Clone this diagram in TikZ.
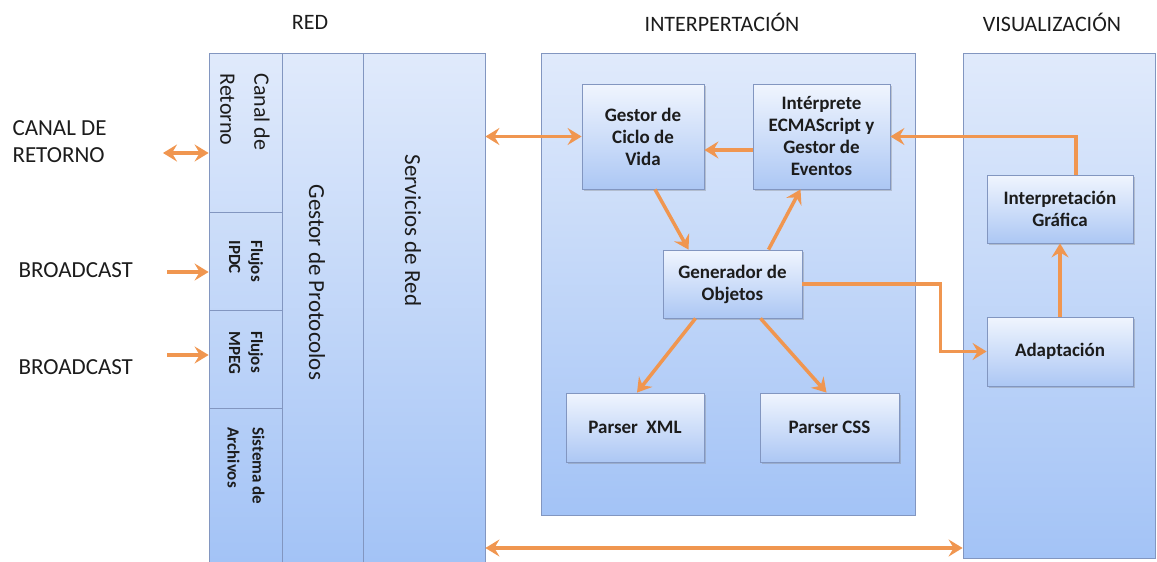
\documentclass[tikz,border=0pt]{standalone}
\usepackage{fontspec}
\setmainfont{Carlito}
\usepackage{tikz}
\usetikzlibrary{arrows.meta,shadows,positioning}

\definecolor{naranja}{RGB}{240,150,80}
\definecolor{fondoArriba}{RGB}{224,234,251}
\definecolor{fondoAbajo}{RGB}{163,195,246}
\definecolor{cajaArriba}{RGB}{240,245,254}
\definecolor{cajaAbajo}{RGB}{172,199,244}
\definecolor{borde}{RGB}{130,150,192}
\definecolor{texto}{RGB}{28,28,28}

\tikzset{
  celda/.style={draw=borde, line width=0.8pt, inner sep=0pt},
  bloque/.style={draw=borde, line width=0.8pt, inner sep=0pt,
    top color=fondoArriba, bottom color=fondoAbajo},
  caja/.style={draw=borde, line width=0.8pt, inner sep=2pt,
    top color=cajaArriba, bottom color=cajaAbajo,
    drop shadow={shadow xshift=1.5pt, shadow yshift=-2pt, opacity=0.35},
    align=center, text=texto, font=\fontsize{19}{22}\selectfont\bfseries},
  titulo/.style={text=texto, font=\fontsize{22}{26}\selectfont},
  etiqueta/.style={text=texto, font=\fontsize{23}{27}\selectfont, align=left},
  girado/.style={rotate=-90, anchor=west, align=left, text=texto},
  flecha/.style={draw=naranja, line width=3.5pt,
    -{Stealth[length=14pt, width=17pt, inset=5pt]}},
  flechaDoble/.style={draw=naranja, line width=3.5pt,
    {Stealth[length=14pt, width=17pt, inset=5pt]}-{Stealth[length=14pt, width=17pt, inset=5pt]}}
}

\begin{document}
\begin{tikzpicture}[x=1pt, y=-1pt]
    \useasboundingbox (0,0) rectangle (1157,562);

    % titulos
    \node[titulo] (tRed) at (310,22) {RED};
    \node[titulo] (tInterp) at (722,22) {INTERPERTACIÓN};
    \node[titulo] (tVisual) at (1052,22) {VISUALIZACIÓN};

    % pila de red
    \shade[top color=fondoArriba, bottom color=fondoAbajo] (209,53) rectangle (485,562);
    \node[celda, minimum width=73pt, minimum height=159pt] (canal) at (245.5,132.5) {};
    \node[celda, minimum width=73pt, minimum height=98pt] (ipdc) at (245.5,261) {};
    \node[celda, minimum width=73pt, minimum height=98pt] (mpeg) at (245.5,359) {};
    \node[celda, minimum width=73pt, minimum height=154pt] (archivos) at (245.5,485) {};
    \node[celda, minimum width=81pt, minimum height=509pt] (protocolos) at (322.5,307.5) {};
    \node[celda, minimum width=122pt, minimum height=509pt] (servicios) at (424,307.5) {};

    \node[girado, font=\fontsize{22}{34}\selectfont] at (245,70) {Canal de\\Retorno};
    \node[girado, font=\fontsize{17}{22}\selectfont\bfseries] at (246,237) {Flujos\\IPDC};
    \node[girado, font=\fontsize{17}{22}\selectfont\bfseries] at (246,328) {Flujos\\MPEG};
    \node[girado, font=\fontsize{17}{25}\selectfont\bfseries] at (246,424) {Sistema de\\Archivos};
    \node[girado, font=\fontsize{23}{26}\selectfont] at (317,181) {Gestor de Protocolos};
    \node[girado, font=\fontsize{23}{26}\selectfont] at (413,151) {Servicios de Red};

    % bloques grandes
    \node[bloque, minimum width=374pt, minimum height=462pt] (interpretacion) at (728,284) {};
    \node[bloque, minimum width=192pt, minimum height=505pt] (visual) at (1059,305.5) {};

    % cajas
    \node[caja, minimum width=122pt, minimum height=105pt] (ciclo) at (643,136.5) {Gestor de\\Ciclo de\\Vida};
    \node[caja, minimum width=137pt, minimum height=105pt] (interp) at (821.5,136.5) {Intérprete\\ECMAScript y\\Gestor de\\Eventos};
    \node[caja, minimum width=139pt, minimum height=68pt] (gener) at (732.5,284) {Generador de\\Objetos};
    \node[caja, minimum width=138pt, minimum height=69pt] (xml) at (635,427.5) {Parser\ \ XML};
    \node[caja, minimum width=139pt, minimum height=69pt] (css) at (829.5,427.5) {Parser CSS};
    \node[caja, minimum width=146pt, minimum height=68pt] (grafica) at (1060,209) {Interpretación\\Gráfica};
    \node[caja, minimum width=146pt, minimum height=69pt] (adapt) at (1060,351.5) {Adaptación};

    % entradas
    \node[etiqueta, anchor=west] (lblRetorno) at (9,142) {CANAL DE\\RETORNO};
    \node[etiqueta, anchor=west] (lblBcast1) at (15,270) {BROADCAST};
    \node[etiqueta, anchor=west] (lblBcast2) at (15,367) {BROADCAST};
    \coordinate (retorno) at (163,153);
    \coordinate (bcast1) at (167,272);
    \coordinate (bcast2) at (167,355);
    \coordinate (abajo) at (0,548);

    % conexiones
    \draw[flechaDoble] (retorno) -- (retorno -| canal.west);
    \draw[flecha] (bcast1) -- (bcast1 -| ipdc.west);
    \draw[flecha] (bcast2) -- (bcast2 -| mpeg.west);
    \draw[flechaDoble] (servicios.east |- ciclo.west) -- (ciclo.west);
    \draw[flecha] ([yshift=-13.5pt]interp.west) -- ([yshift=-13.5pt]ciclo.east);
    \draw[flecha] ([xshift=16pt]grafica.north) |- (interp.east);
    \draw[flecha] ([xshift=12pt]ciclo.south) -- ([xshift=-44pt]gener.north);
    \draw[flecha] ([xshift=36pt]gener.north) -- ([xshift=-21pt]interp.south);
    \draw[flecha] ([xshift=-37pt]gener.south) -- ([xshift=2pt]xml.north);
    \draw[flecha] ([xshift=28pt]gener.south) -- ([xshift=-3pt]css.north);
    \draw[flecha] (gener.east) -- ++(138,0) |- (adapt.west);
    \draw[flecha] (adapt.north) -- (grafica.south);
    \draw[flechaDoble] (servicios.east |- abajo) -- (visual.west |- abajo);
\end{tikzpicture}
\end{document}
